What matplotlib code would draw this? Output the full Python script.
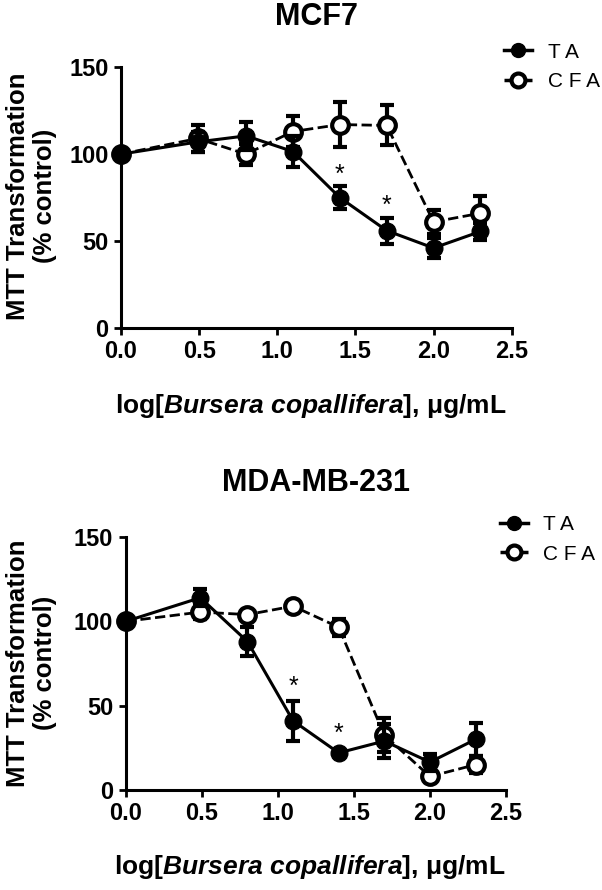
import matplotlib
matplotlib.use("Agg")
import matplotlib.pyplot as plt
from matplotlib.lines import Line2D

plt.rcParams["font.family"] = ["Liberation Sans", "DejaVu Sans"]
plt.rcParams["mathtext.fontset"] = "custom"
plt.rcParams["mathtext.it"] = "Liberation Sans:italic:bold"
plt.rcParams["mathtext.rm"] = "Liberation Sans:bold"
plt.rcParams["mathtext.bf"] = "Liberation Sans:bold"

# Datos
dosis = [0.0, 0.49, 0.8, 1.1, 1.4, 1.7, 2.0, 2.3]

mcf7_ta = [100, 107, 110.5, 101.5, 75, 56, 46, 55.5]
mcf7_ta_err = [0, 6, 8, 9, 6.5, 7.5, 6, 5]
mcf7_cfa = [100, 109, 100, 113, 117, 116.5, 61, 66]
mcf7_cfa_err = [0, 8, 6, 9, 13, 11.5, 7, 10]
mcf7_ast = [(1.4, 88), (1.7, 70)]

mda_ta = [100, 114, 88, 41, 22, 29, 16.5, 30]
mda_ta_err = [0, 5, 8.5, 12, 1, 10, 5, 10]
mda_cfa = [100, 105.5, 104, 109, 96.5, 32.5, 8, 15]
mda_cfa_err = [0, 4, 3, 3, 5, 10, 3, 5]
mda_ast = [(1.1, 61), (1.4, 33)]

titulos = ["MCF7", "MDA-MB-231"]
xticks = [0.0, 0.5, 1.0, 1.5, 2.0, 2.5]
yticks = [0, 50, 100, 150]

fig = plt.figure(figsize=(6.02, 8.90), dpi=100)
ax1 = fig.add_axes([0.201, 0.6315, 0.649, 0.293])
ax2 = fig.add_axes([0.209, 0.1124, 0.6315, 0.2842])

# (eje, datos..., y titulo, y etiqueta x, y etiqueta y, x/y leyenda)
paneles = [
    (ax1, mcf7_ta, mcf7_ta_err, mcf7_cfa, mcf7_cfa_err, mcf7_ast, titulos[0],
     0.981, 0.544, 0.780, (0.837, 0.952)),
    (ax2, mda_ta, mda_ta_err, mda_cfa, mda_cfa_err, mda_ast, titulos[1],
     0.457, 0.026, 0.255, (0.830, 0.421)),
]

for (ax, ta, ta_err, cfa, cfa_err, ast, titulo,
     y_tit, y_xlab, y_ylab, pos_leg) in paneles:
    ax.errorbar(dosis, cfa, yerr=cfa_err, color="black", ls="--", lw=2,
                marker="o", ms=12, mfc="white", mec="black", mew=3,
                capsize=5, capthick=3, elinewidth=3, zorder=3, clip_on=False)
    ax.errorbar(dosis, ta, yerr=ta_err, color="black", ls="-", lw=2.2,
                marker="o", ms=12, mfc="black", mec="black",
                capsize=5, capthick=3, elinewidth=3, zorder=4, clip_on=False)
    for xa, ya in ast:
        ax.text(xa, ya, "*", ha="center", va="center", fontsize=18)

    ax.set_xlim(0, 2.5)
    ax.set_ylim(0, 150)
    ax.set_xticks(xticks)
    ax.set_yticks(yticks)
    ax.set_xticklabels([f"{t:.1f}" for t in xticks])
    ax.set_yticklabels([str(t) for t in yticks])
    ax.tick_params(width=2, length=5, pad=4, labelsize=17)
    for lbl in ax.get_xticklabels() + ax.get_yticklabels():
        lbl.set_fontweight("bold")
    ax.spines["top"].set_visible(False)
    ax.spines["right"].set_visible(False)
    ax.spines["left"].set_linewidth(2.2)
    ax.spines["bottom"].set_linewidth(2.2)

    pos = ax.get_position()
    xc = (pos.x0 + pos.x1) / 2
    fig.text(xc, y_tit, titulo, ha="center", va="center",
             fontsize=22, fontweight="bold")
    fig.text(xc - 0.01, y_xlab, "log[$\\it{Bursera\\ copallifera}$], μg/mL",
             ha="center", va="center", fontsize=19, fontweight="bold")
    fig.text(0.053, y_ylab, "MTT Transformation\n(% control)", rotation=90,
             ha="center", va="center", fontsize=18.5, fontweight="bold",
             linespacing=1.15)

    handles = [
        Line2D([], [], color="black", ls="-", lw=2.5, marker="o", ms=10,
               mfc="black", mec="black"),
        Line2D([], [], color="black", ls="--", lw=2.5, marker="o", ms=10,
               mfc="white", mec="black", mew=3),
    ]
    ax.legend(handles, ["T A", "C F A"], loc="upper left",
              bbox_to_anchor=pos_leg, bbox_transform=fig.transFigure,
              frameon=False, fontsize=15, handlelength=1.35,
              handletextpad=0.75, labelspacing=0.5, borderaxespad=0,
              borderpad=0)

plt.savefig("out.png", dpi=100)
